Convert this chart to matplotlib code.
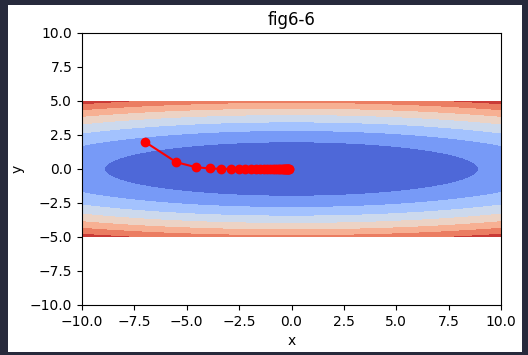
import numpy as np
import matplotlib
matplotlib.use("Agg")
import matplotlib.pyplot as plt
from matplotlib.patches import Rectangle

# AdaGrad path (start at (-7, 2))
path_x = [-7.000, -5.500, -4.573, -3.888, -3.345, -2.899, -2.524, -2.206,
          -1.932, -1.695, -1.489, -1.310, -1.153, -1.015, -0.895, -0.788,
          -0.695, -0.613, -0.540, -0.477, -0.420, -0.371, -0.327, -0.289,
          -0.255, -0.225, -0.198, -0.175, -0.154, -0.136, -0.120]
path_y = [2.0000, 0.5000, 0.1362, 0.0373, 0.0102, 0.0028, 0.0008, 0.0002,
          0.0001] + [0.0] * 22

contour_levels = [0, 4, 8, 12, 16, 20, 24, 28, 32]
ticks = [-10.0, -7.5, -5.0, -2.5, 0.0, 2.5, 5.0, 7.5, 10.0]


def f(x, y):
    return x ** 2 / 20.0 + y ** 2


grid_x = np.arange(-10, 10.01, 0.05)
grid_y = np.arange(-5, 5.01, 0.05)
X, Y = np.meshgrid(grid_x, grid_y)
Z = f(X, Y)

fig = plt.figure(figsize=(5.28, 3.55), dpi=100, facecolor="#272a3c")
# white notebook output area inside the dark frame
fig.patches.append(Rectangle((8 / 528, 1 - 352 / 355), 514 / 528, 347 / 355,
                             transform=fig.transFigure, facecolor="white",
                             edgecolor="none", zorder=-10))

ax = fig.add_axes([82 / 528, 1 - 305 / 355, 419 / 528, 272 / 355])
ax.contourf(X, Y, Z, levels=contour_levels, cmap="coolwarm")
ax.plot(path_x, path_y, "o-", color="red")

ax.set_xlim(-10, 10)
ax.set_ylim(-10, 10)
ax.set_xticks(ticks)
ax.set_yticks(ticks)
ax.set_title("fig6-6")
ax.set_xlabel("x")
ax.set_ylabel("y")

fig.savefig("out.png", facecolor=fig.get_facecolor())
